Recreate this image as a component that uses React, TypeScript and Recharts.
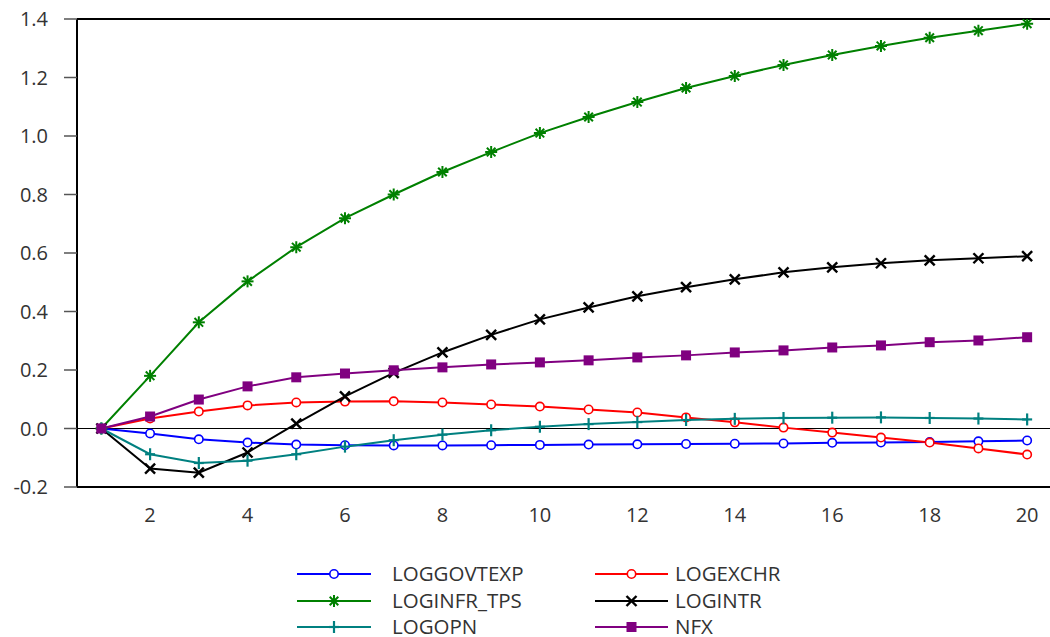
import React from "react";
import { LineChart, Line, XAxis, YAxis, ReferenceLine, Legend } from "recharts";

const periods = [1, 2, 3, 4, 5, 6, 7, 8, 9, 10, 11, 12, 13, 14, 15, 16, 17, 18, 19, 20];
const logGovtExp = [0, -0.017, -0.037, -0.048, -0.055, -0.057, -0.058, -0.058, -0.057, -0.056, -0.055, -0.054, -0.053, -0.052, -0.051, -0.049, -0.048, -0.046, -0.044, -0.041];
const logExchr = [0, 0.034, 0.058, 0.079, 0.089, 0.092, 0.093, 0.089, 0.082, 0.075, 0.065, 0.055, 0.038, 0.021, 0.003, -0.014, -0.031, -0.048, -0.068, -0.089];
const logInfrTps = [0, 0.18, 0.363, 0.503, 0.62, 0.719, 0.8, 0.877, 0.945, 1.01, 1.065, 1.116, 1.164, 1.205, 1.243, 1.277, 1.308, 1.336, 1.36, 1.384];
const logIntr = [0, -0.137, -0.151, -0.082, 0.017, 0.11, 0.19, 0.26, 0.32, 0.373, 0.414, 0.452, 0.483, 0.51, 0.534, 0.551, 0.565, 0.575, 0.582, 0.589];
const logOpn = [0, -0.088, -0.118, -0.11, -0.088, -0.062, -0.04, -0.021, -0.006, 0.006, 0.015, 0.022, 0.029, 0.033, 0.036, 0.037, 0.038, 0.036, 0.034, 0.031];
const nfx = [0, 0.041, 0.099, 0.144, 0.175, 0.188, 0.199, 0.209, 0.219, 0.226, 0.233, 0.243, 0.25, 0.26, 0.267, 0.277, 0.284, 0.295, 0.301, 0.312];

const yTicks = [-0.2, 0, 0.2, 0.4, 0.6, 0.8, 1.0, 1.2, 1.4];
const xLabelTicks = [2, 4, 6, 8, 10, 12, 14, 16, 18, 20];
const xBoundaryTicks = [0.5, 1.5, 2.5, 3.5, 4.5, 5.5, 6.5, 7.5, 8.5, 9.5, 10.5, 11.5, 12.5, 13.5, 14.5, 15.5, 16.5, 17.5, 18.5, 19.5, 20.5];

type MarkerType = "circle" | "asterisk" | "x" | "plus" | "square";

const series: { key: string; values: number[]; color: string; marker: MarkerType }[] = [
  { key: "LOGGOVTEXP", values: logGovtExp, color: "#0000FF", marker: "circle" },
  { key: "LOGEXCHR", values: logExchr, color: "#FF0000", marker: "circle" },
  { key: "LOGINFR_TPS", values: logInfrTps, color: "#008000", marker: "asterisk" },
  { key: "LOGINTR", values: logIntr, color: "#000000", marker: "x" },
  { key: "LOGOPN", values: logOpn, color: "#008080", marker: "plus" },
  { key: "NFX", values: nfx, color: "#800080", marker: "square" },
];

const data = periods.map((p, i) => {
  const row: Record<string, number> = { period: p };
  series.forEach((s) => {
    row[s.key] = s.values[i];
  });
  return row;
});

const FONT = "'Open Sans', 'Noto Sans', sans-serif";
const TEXT = "#333333";
const FS = 20;

function MarkerShape({ type, cx, cy, color }: { type: MarkerType; cx: number; cy: number; color: string }) {
  if (cx == null || cy == null || isNaN(cx) || isNaN(cy)) return null;
  switch (type) {
    case "circle":
      return <circle cx={cx} cy={cy} r={4.2} fill="#ffffff" stroke={color} strokeWidth={1.6} />;
    case "asterisk": {
      const r = 6;
      const d = 4.3;
      return (
        <g stroke={color} strokeWidth={2}>
          <line x1={cx - r} y1={cy} x2={cx + r} y2={cy} />
          <line x1={cx} y1={cy - r} x2={cx} y2={cy + r} />
          <line x1={cx - d} y1={cy - d} x2={cx + d} y2={cy + d} />
          <line x1={cx - d} y1={cy + d} x2={cx + d} y2={cy - d} />
        </g>
      );
    }
    case "x": {
      const d = 5;
      return (
        <g stroke={color} strokeWidth={2.4}>
          <line x1={cx - d} y1={cy - d} x2={cx + d} y2={cy + d} />
          <line x1={cx - d} y1={cy + d} x2={cx + d} y2={cy - d} />
        </g>
      );
    }
    case "plus":
      return (
        <g stroke={color} strokeWidth={2.2}>
          <line x1={cx - 5} y1={cy} x2={cx + 5} y2={cy} />
          <line x1={cx} y1={cy - 6} x2={cx} y2={cy + 6} />
        </g>
      );
    case "square":
      return <rect x={cx - 5} y={cy - 5} width={10} height={10} fill={color} />;
  }
  return null;
}

const textStyle = { fontFamily: FONT, fontSize: `${FS}px`, fill: TEXT };

function renderYTick(props: any) {
  const { x, y, payload, index } = props;
  return (
    <text key={`y-${index}`} x={x} y={y} dy="0.36em" textAnchor="end" style={textStyle}>
      {Number(payload.value).toFixed(1)}
    </text>
  );
}

function renderXTick(props: any) {
  const { x, y, payload, index } = props;
  return (
    <text key={`x-${index}`} x={x} y={y} dy="0.72em" textAnchor="middle" style={textStyle}>
      {payload.value}
    </text>
  );
}

function LegendBox() {
  const cols = [
    { lineX1: 297, lineX2: 371, textX: 392 },
    { lineX1: 595, lineX2: 668, textX: 675 },
  ];
  const rows = [19, 46, 72];
  return (
    <svg width={1050} height={82} style={{ display: "block" }}>
      {series.map((s, i) => {
        const c = cols[i % 2];
        const y = rows[Math.floor(i / 2)];
        const mx = (c.lineX1 + c.lineX2) / 2;
        return (
          <g key={s.key}>
            <line x1={c.lineX1} y1={y} x2={c.lineX2} y2={y} stroke={s.color} strokeWidth={2} />
            <MarkerShape type={s.marker} cx={mx} cy={y} color={s.color} />
            <text x={c.textX} y={y} dy="0.36em" style={{ fontFamily: FONT, fontSize: "20.5px", fill: TEXT }}>
              {s.key}
            </text>
          </g>
        );
      })}
    </svg>
  );
}

export default function App() {
  return (
    <div style={{ position: "absolute", left: 0, top: 0, width: 1050, height: 637, overflow: "hidden", background: "#fff" }}>
      <LineChart
        width={1056}
        height={637}
        data={data}
        margin={{ top: 19, right: 4.5, bottom: 109, left: 0 }}
        style={{ fontFamily: FONT }}
      >
        <XAxis
          xAxisId="grid"
          type="number"
          dataKey="period"
          domain={[0.5, 20.5]}
          ticks={xBoundaryTicks}
          tick={false}
          tickSize={10}
          tickLine={{ stroke: "#333", strokeWidth: 1.5 }}
          axisLine={{ stroke: "#000", strokeWidth: 2 }}
          height={1}
          allowDataOverflow
        />
        <XAxis
          xAxisId="lbl"
          type="number"
          dataKey="period"
          domain={[0.5, 20.5]}
          ticks={xLabelTicks}
          tickLine={false}
          axisLine={false}
          tickSize={10}
          tickMargin={10}
          fontSize={FS}
          tick={renderXTick}
          height={40}
          allowDataOverflow
        />
        <YAxis
          type="number"
          domain={[-0.2, 1.4]}
          ticks={yTicks}
          width={77}
          tickSize={13}
          tickMargin={16}
          fontSize={FS}
          tickLine={{ stroke: "#555", strokeWidth: 1.5 }}
          axisLine={{ stroke: "#000", strokeWidth: 2 }}
          tick={renderYTick}
          allowDataOverflow
        />
        <ReferenceLine y={1.4} xAxisId="lbl" stroke="#000" strokeWidth={2} />
        <ReferenceLine y={0} xAxisId="lbl" stroke="#000" strokeWidth={1} />
        {series.map((s) => (
          <Line
            key={s.key}
            xAxisId="lbl"
            type="linear"
            dataKey={s.key}
            stroke={s.color}
            strokeWidth={2}
            isAnimationActive={false}
            dot={(props: any) => (
              <MarkerShape key={`${s.key}-${props.index}`} type={s.marker} cx={props.cx} cy={props.cy} color={s.color} />
            )}
            activeDot={false}
          />
        ))}
        <Legend
          layout="horizontal"
          verticalAlign="middle"
          align="center"
          wrapperStyle={{ position: "absolute", left: 0, top: 555, width: 1050, height: 82 }}
          content={() => <LegendBox />}
        />
      </LineChart>
    </div>
  );
}
